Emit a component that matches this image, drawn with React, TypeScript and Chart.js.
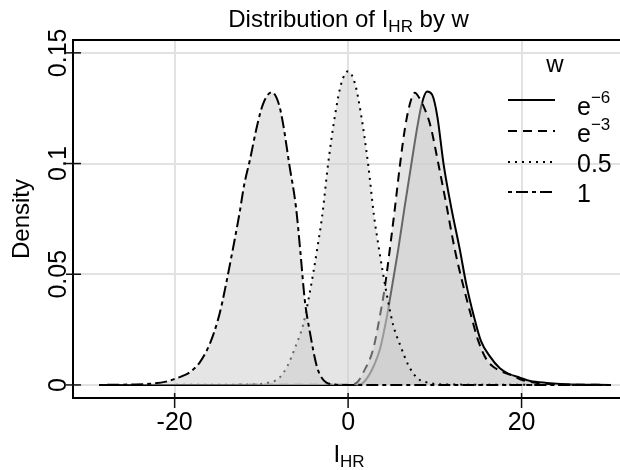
import React, { useEffect, useRef } from 'react';
import { Chart, registerables } from 'chart.js';

Chart.register(...registerables);

// ---- axis ranges & ticks ----
const X_MIN = -31.72;
const X_MAX = 31.35;
const Y_MIN = -0.0059;
const Y_MAX = 0.1558;

const X_TICKS = [-20, 0, 20];
const X_TICK_LABELS = ['-20', '0', '20'];
const Y_TICKS = [0, 0.05, 0.1, 0.15];
const Y_TICK_LABELS = ['0', '0.05', '0.1', '0.15'];

// ---- texts ----
const TITLE_PARTS = ['Distribution of I', 'HR', ' by w'];
const X_TITLE_PARTS = ['I', 'HR'];
const Y_TITLE = 'Density';
const LEGEND_TITLE = 'w';
const SERIES_BASE = ['e', 'e', '0.5', '1'];
const SERIES_SUP = ['\u22126', '\u22123', '', ''];

// ---- series: w = e^-6 (solid) ----
const X_EM6 = [-28.7, 0, 1.0, 1.7, 2.5, 3.0, 3.66, 4.43, 5.0, 5.77, 6.5, 7.3, 8.0, 8.5, 9.1, 9.7, 10.3, 11.0, 11.9, 12.89, 13.6, 14.5, 15.3, 16.35, 17.5, 18.5, 19.8, 21, 22.9, 25, 30.3];
const Y_EM6 = [0, 0, 0.0001, 0.0009, 0.005, 0.009, 0.016, 0.030, 0.043, 0.061, 0.08, 0.1, 0.117, 0.127, 0.1325, 0.131, 0.121, 0.1, 0.08, 0.061, 0.046, 0.031, 0.02, 0.0129, 0.0075, 0.005, 0.0033, 0.0018, 0.0009, 0.0003, 0];

// ---- series: w = e^-3 (dashed) ----
const X_EM3 = [-28.7, 0, 0.97, 1.8, 2.88, 3.66, 4.23, 4.8, 5.4, 6.0, 6.6, 7.2, 7.7, 8.3, 8.9, 9.5, 10.4, 11.3, 12.31, 13.2, 14.2, 15.0, 15.97, 16.7, 17.6, 18.65, 20.15, 22, 25, 30.3];
const Y_EM3 = [0, 0.0001, 0.0009, 0.006, 0.016, 0.031, 0.044, 0.061, 0.08, 0.1, 0.117, 0.128, 0.132, 0.129, 0.124, 0.117, 0.1, 0.082, 0.061, 0.046, 0.031, 0.02, 0.0114, 0.0083, 0.0062, 0.0047, 0.0021, 0.0008, 0.0002, 0];

// ---- series: w = 0.5 (dotted) ----
const X_HALF = [-28.7, -11, -9.4, -8, -7, -6, -5.2, -4.6, -4, -3.5, -3, -2.3, -1.5, -0.8, 0, 0.8, 1.5, 2.3, 3, 3.5, 4, 4.6, 5.2, 6, 7, 8, 9.4, 11, 30.3];
const Y_HALF = [0, 0.0002, 0.0009, 0.003, 0.0085, 0.018, 0.027, 0.038, 0.051, 0.063, 0.076, 0.1, 0.122, 0.136, 0.1417, 0.136, 0.122, 0.1, 0.076, 0.063, 0.051, 0.038, 0.027, 0.018, 0.0085, 0.003, 0.0009, 0.0002, 0];

// ---- series: w = 1 (two-dash) ----
const X_ONE = [-28.7, -25, -22.9, -21, -20, -19, -18.3, -17.1, -15.9, -15, -14.5, -14, -13.5, -12.5, -12, -11.3, -10.5, -9.8, -8.8, -8.0, -7.5, -6.8, -6.0, -5.5, -5.0, -4.4, -3.6, -3.0, -2.5, -1.5, 0, 30.3];
const Y_ONE = [0, 0.0002, 0.0005, 0.0015, 0.0027, 0.0042, 0.0056, 0.0102, 0.019, 0.0295, 0.0375, 0.047, 0.057, 0.078, 0.09, 0.102, 0.117, 0.127, 0.1322, 0.127, 0.118, 0.1, 0.08, 0.06, 0.0385, 0.0237, 0.0083, 0.003, 0.001, 0.0002, 0, 0];

const DASHES: number[][] = [[], [9, 6], [2, 5], [4, 4, 12, 4]];

const FONT = '"Liberation Sans", Arial, Helvetica, sans-serif';
const FILL = 'rgba(204,204,204,0.5)';

type Part = { t: string; size: number; dy: number };

function drawParts(ctx: CanvasRenderingContext2D, parts: Part[], cx: number, baseY: number) {
  let total = 0;
  const widths = parts.map((p) => {
    ctx.font = `${p.size}px ${FONT}`;
    const w = ctx.measureText(p.t).width;
    total += w;
    return w;
  });
  let x = cx - total / 2;
  ctx.textAlign = 'left';
  ctx.textBaseline = 'alphabetic';
  parts.forEach((p, i) => {
    ctx.font = `${p.size}px ${FONT}`;
    ctx.fillText(p.t, x, baseY + p.dy);
    x += widths[i];
  });
}

const decor = {
  id: 'decor',
  afterDraw(chart: any) {
    const { ctx, chartArea: ca, scales } = chart;
    const xs = scales.x;
    const ys = scales.y;
    ctx.save();
    ctx.setLineDash([]);
    // box (top, left, bottom)
    ctx.strokeStyle = '#000';
    ctx.lineWidth = 2;
    ctx.beginPath();
    ctx.moveTo(ca.right, ca.top);
    ctx.lineTo(ca.left, ca.top);
    ctx.lineTo(ca.left, ca.bottom);
    ctx.lineTo(ca.right, ca.bottom);
    ctx.stroke();

    // tick marks
    ctx.lineWidth = 1.5;
    ctx.strokeStyle = '#111';
    X_TICKS.forEach((v) => {
      const px = xs.getPixelForValue(v);
      ctx.beginPath();
      ctx.moveTo(px, ca.bottom - 5);
      ctx.lineTo(px, ca.bottom + 10);
      ctx.stroke();
    });
    Y_TICKS.forEach((v) => {
      const py = ys.getPixelForValue(v);
      ctx.beginPath();
      ctx.moveTo(ca.left - 7, py);
      ctx.lineTo(ca.left + 8, py);
      ctx.stroke();
    });

    ctx.fillStyle = '#000';
    // x tick labels
    ctx.font = `25px ${FONT}`;
    ctx.textAlign = 'center';
    ctx.textBaseline = 'alphabetic';
    X_TICKS.forEach((v, i) => {
      ctx.fillText(X_TICK_LABELS[i], xs.getPixelForValue(v), 430);
    });
    // y tick labels (rotated)
    Y_TICKS.forEach((v, i) => {
      const py = ys.getPixelForValue(v);
      ctx.save();
      ctx.translate(66, py);
      ctx.rotate(-Math.PI / 2);
      ctx.font = `25px ${FONT}`;
      ctx.textAlign = 'center';
      ctx.textBaseline = 'alphabetic';
      ctx.fillText(Y_TICK_LABELS[i], 0, 0);
      ctx.restore();
    });

    // y title
    ctx.save();
    ctx.translate(28.5, (ca.top + ca.bottom) / 2);
    ctx.rotate(-Math.PI / 2);
    ctx.font = `24px ${FONT}`;
    ctx.textAlign = 'center';
    ctx.textBaseline = 'alphabetic';
    ctx.fillText(Y_TITLE, 0, 0);
    ctx.restore();

    // x title
    drawParts(ctx, [
      { t: X_TITLE_PARTS[0], size: 24, dy: 0 },
      { t: X_TITLE_PARTS[1], size: 17, dy: 5 },
    ], 349, 461.5);

    // main title
    drawParts(ctx, [
      { t: TITLE_PARTS[0], size: 24, dy: 0 },
      { t: TITLE_PARTS[1], size: 17, dy: 5 },
      { t: TITLE_PARTS[2], size: 24, dy: 0 },
    ], 348.6, 27);

    // legend
    ctx.font = `24px ${FONT}`;
    ctx.textAlign = 'center';
    ctx.fillText(LEGEND_TITLE, 555, 72);
    const lineYs = [100, 131, 162, 192];
    const baseYs = [115, 142, 171.5, 201.5];
    lineYs.forEach((ly, i) => {
      ctx.save();
      ctx.strokeStyle = '#000';
      ctx.lineWidth = 2;
      ctx.setLineDash(DASHES[i]);
      ctx.beginPath();
      ctx.moveTo(508, ly);
      ctx.lineTo(555, ly);
      ctx.stroke();
      ctx.restore();
      ctx.textAlign = 'left';
      ctx.font = `25px ${FONT}`;
      ctx.fillText(SERIES_BASE[i], 577, baseYs[i]);
      if (SERIES_SUP[i]) {
        const w = ctx.measureText(SERIES_BASE[i]).width;
        ctx.font = `17px ${FONT}`;
        ctx.fillText(SERIES_SUP[i], 577 + w, baseYs[i] - 12.5);
      }
    });
    ctx.restore();
  },
};

function toPts(xs: number[], ys: number[]) {
  return xs.map((x, i) => ({ x, y: ys[i] }));
}

function mkDataset(label: string, xs: number[], ys: number[], dash: number[], order: number) {
  return {
    label,
    data: toPts(xs, ys),
    borderColor: '#000',
    borderWidth: 2,
    borderDash: dash,
    borderCapStyle: 'butt' as const,
    borderJoinStyle: 'round' as const,
    backgroundColor: FILL,
    fill: 'origin',
    pointRadius: 0,
    cubicInterpolationMode: 'monotone' as const,
    order,
  };
}

export default function App() {
  const ref = useRef<HTMLCanvasElement>(null);
  useEffect(() => {
    const canvas = ref.current;
    if (!canvas) return;
    const chart = new Chart(canvas, {
      type: 'line',
      data: {
        datasets: [
          mkDataset('e^-6', X_EM6, Y_EM6, DASHES[0], 4),
          mkDataset('e^-3', X_EM3, Y_EM3, DASHES[1], 3),
          mkDataset('0.5', X_HALF, Y_HALF, DASHES[2], 2),
          mkDataset('1', X_ONE, Y_ONE, DASHES[3], 1),
        ] as any,
      },
      options: {
        animation: false,
        responsive: false,
        devicePixelRatio: 1,
        layout: { padding: { left: 73, top: 40, right: 0, bottom: 72 } },
        plugins: {
          legend: { display: false },
          title: { display: false },
          tooltip: { enabled: false },
        },
        scales: {
          x: {
            type: 'linear',
            min: X_MIN,
            max: X_MAX,
            afterFit: (s: any) => { s.height = 0; },
            afterBuildTicks: (s: any) => { s.ticks = X_TICKS.map((v) => ({ value: v })); },
            ticks: { display: false },
            grid: { color: '#e2e2e2', lineWidth: 2, drawTicks: false },
            border: { display: false },
          },
          y: {
            type: 'linear',
            min: Y_MIN,
            max: Y_MAX,
            afterFit: (s: any) => { s.width = 0; },
            afterBuildTicks: (s: any) => { s.ticks = Y_TICKS.map((v) => ({ value: v })); },
            ticks: { display: false },
            grid: { color: '#e2e2e2', lineWidth: 2, drawTicks: false },
            border: { display: false },
          },
        },
      } as any,
      plugins: [decor],
    });
    return () => chart.destroy();
  }, []);
  return (
    <div style={{ position: 'absolute', left: 0, top: 0, width: 620, height: 470, background: '#fff' }}>
      <canvas ref={ref} width={620} height={470} style={{ display: 'block' }} />
    </div>
  );
}
